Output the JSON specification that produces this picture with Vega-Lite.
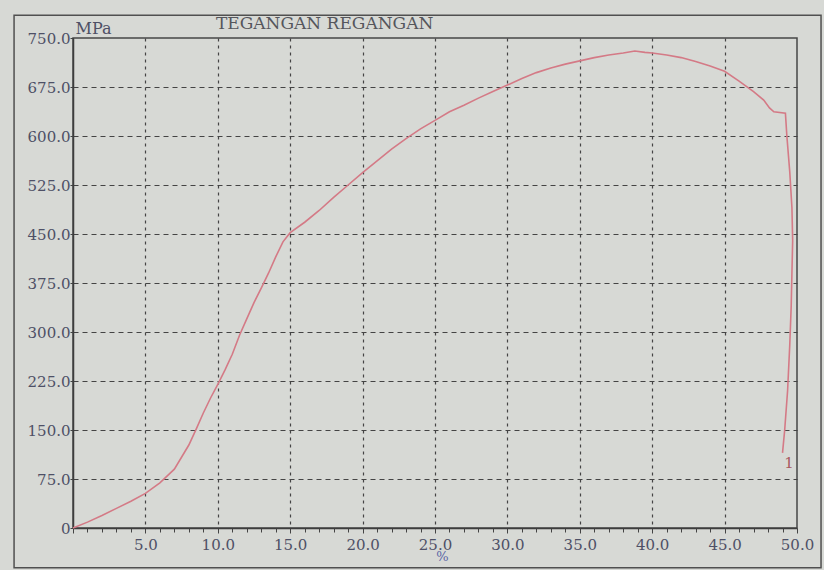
{
  "$schema": "https://vega.github.io/schema/vega-lite/v6.json",
  "width": 724,
  "height": 490,
  "autosize": "none",
  "padding": {"left": 73, "top": 38, "right": 27, "bottom": 42},
  "background": "#d7d9d5",
  "config": {
    "view": {"stroke": "#474747", "strokeWidth": 1.5},
    "font": "DejaVu Serif"
  },
  "title": {
    "text": "TEGANGAN REGANGAN",
    "anchor": "start",
    "frame": "group",
    "dx": 143,
    "offset": -32,
    "baseline": "alphabetic",
    "font": "DejaVu Serif",
    "fontSize": 17,
    "fontWeight": "normal",
    "color": "#55565c"
  },
  "datasets": {
    "curve": [
      {"strain": 0, "stress": 0},
      {"strain": 1, "stress": 9},
      {"strain": 2, "stress": 19},
      {"strain": 3, "stress": 30},
      {"strain": 4, "stress": 41},
      {"strain": 5, "stress": 53},
      {"strain": 6, "stress": 69},
      {"strain": 7, "stress": 90},
      {"strain": 8, "stress": 127},
      {"strain": 8.5, "stress": 151},
      {"strain": 9, "stress": 176},
      {"strain": 9.5, "stress": 199},
      {"strain": 10, "stress": 220},
      {"strain": 10.5, "stress": 242},
      {"strain": 11, "stress": 266},
      {"strain": 11.5, "stress": 295},
      {"strain": 12, "stress": 320},
      {"strain": 12.5, "stress": 345},
      {"strain": 13, "stress": 367},
      {"strain": 13.5, "stress": 390},
      {"strain": 14, "stress": 415},
      {"strain": 14.5, "stress": 438},
      {"strain": 15, "stress": 452},
      {"strain": 16, "stress": 468},
      {"strain": 17, "stress": 486},
      {"strain": 18, "stress": 506},
      {"strain": 19, "stress": 525},
      {"strain": 20, "stress": 544},
      {"strain": 21, "stress": 562},
      {"strain": 22, "stress": 580},
      {"strain": 23, "stress": 596},
      {"strain": 24, "stress": 611},
      {"strain": 25, "stress": 624},
      {"strain": 26, "stress": 637},
      {"strain": 27, "stress": 647},
      {"strain": 28, "stress": 658},
      {"strain": 29, "stress": 668},
      {"strain": 30, "stress": 678},
      {"strain": 31, "stress": 688},
      {"strain": 32, "stress": 697},
      {"strain": 33, "stress": 704},
      {"strain": 34, "stress": 710},
      {"strain": 35, "stress": 715},
      {"strain": 36, "stress": 720},
      {"strain": 37, "stress": 724},
      {"strain": 38, "stress": 727},
      {"strain": 38.8, "stress": 730},
      {"strain": 39.5, "stress": 728},
      {"strain": 40, "stress": 727},
      {"strain": 41, "stress": 724},
      {"strain": 42, "stress": 720},
      {"strain": 43, "stress": 714},
      {"strain": 44, "stress": 707},
      {"strain": 45, "stress": 699},
      {"strain": 46, "stress": 684},
      {"strain": 47, "stress": 668},
      {"strain": 47.7, "stress": 655},
      {"strain": 48.1, "stress": 643},
      {"strain": 48.4, "stress": 637},
      {"strain": 49.2, "stress": 635},
      {"strain": 49.3, "stress": 600},
      {"strain": 49.5, "stress": 545},
      {"strain": 49.65, "stress": 490},
      {"strain": 49.7, "stress": 440},
      {"strain": 49.65, "stress": 390},
      {"strain": 49.6, "stress": 340},
      {"strain": 49.5, "stress": 280},
      {"strain": 49.35, "stress": 210},
      {"strain": 49.15, "stress": 150},
      {"strain": 49.0, "stress": 115}
    ]
  },
  "layer": [
    {
      "data": {"name": "curve"},
      "mark": {"type": "line", "color": "#d47a86", "strokeWidth": 1.6},
      "encoding": {
        "x": {
          "field": "strain",
          "type": "quantitative",
          "scale": {"domain": [0, 50], "nice": false, "zero": false},
          "axis": {
            "values": [0,1,2,3,4,5,6,7,8,9,10,11,12,13,14,15,16,17,18,19,20,21,22,23,24,25,26,27,28,29,30,31,32,33,34,35,36,37,38,39,40,41,42,43,44,45,46,47,48,49,50],
            "tickCount": 100,
            "labelExpr": "datum.value % 5 === 0 && datum.value > 0 ? format(datum.value, '.1f') : ''",
            "labelOverlap": false,
            "labelFlush": false,
            "labelFont": "DejaVu Serif",
            "labelFontSize": 15,
            "labelColor": "#4e5066",
            "labelPadding": 4,
            "grid": true,
            "gridDash": [3, 4],
            "gridColor": "#444444",
            "gridWidth": 1.2,
            "gridOpacity": {"condition": {"test": "datum.value % 5 === 0 && datum.value > 0 && datum.value < 50", "value": 1}, "value": 0},
            "ticks": true,
            "tickColor": "#444444",
            "tickSize": {"condition": {"test": "datum.value % 5 === 0", "value": 5}, "value": 4},
            "domainColor": "#3d3d3d",
            "domainWidth": 1.5,
            "title": "%",
            "titleX": 369,
            "titleY": 28,
            "titleAlign": "center",
            "titleBaseline": "middle",
            "titleFont": "DejaVu Serif",
            "titleFontSize": 13,
            "titleFontWeight": "normal",
            "titleColor": "#5a66a6"
          }
        },
        "y": {
          "field": "stress",
          "type": "quantitative",
          "scale": {"domain": [0, 750], "nice": false, "zero": false},
          "axis": {
            "values": [0, 75, 150, 225, 300, 375, 450, 525, 600, 675, 750],
            "tickCount": 100,
            "labelExpr": "datum.value === 0 ? '0' : format(datum.value, '.1f')",
            "labelOverlap": false,
            "labelFlush": false,
            "labelFont": "DejaVu Serif",
            "labelFontSize": 15,
            "labelColor": "#4e5066",
            "labelPadding": 0,
            "grid": true,
            "gridDash": [5, 4],
            "gridColor": "#444444",
            "gridWidth": 1.2,
            "gridOpacity": {"condition": {"test": "datum.value > 0 && datum.value < 750", "value": 1}, "value": 0},
            "tickColor": "#444444",
            "tickSize": 3,
            "domainColor": "#3d3d3d",
            "domainWidth": 1.5,
            "title": "MPa",
            "titleAngle": 0,
            "titleX": 2,
            "titleY": -5,
            "titleAlign": "left",
            "titleBaseline": "alphabetic",
            "titleFont": "DejaVu Serif",
            "titleFontSize": 16,
            "titleFontWeight": "normal",
            "titleColor": "#4e5066"
          }
        },
        "order": {"value": null}
      }
    },
    {
      "data": {"values": [{}]},
      "mark": {"type": "rect", "fill": "transparent", "stroke": "#505050", "strokeWidth": 1.5, "clip": false},
      "encoding": {
        "x": {"datum": -4.07, "type": "quantitative"},
        "x2": {"datum": 51.66},
        "y": {"datum": 785, "type": "quantitative"},
        "y2": {"datum": -61}
      }
    },
    {
      "data": {"values": [{}]},
      "mark": {"type": "text", "font": "DejaVu Serif", "fontSize": 15, "color": "#a85a60", "align": "center", "baseline": "middle"},
      "encoding": {
        "x": {"datum": 49.45, "type": "quantitative"},
        "y": {"datum": 100, "type": "quantitative"},
        "text": {"value": "1"}
      }
    }
  ]
}
